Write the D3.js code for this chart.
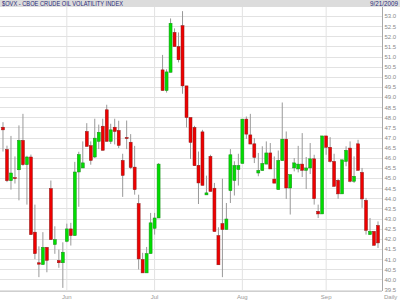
<!DOCTYPE html>
<html>
<head>
<meta charset="utf-8">
<script src="https://cdn.jsdelivr.net/npm/d3@7"></script>
<style>
    body { margin: 0; background: #fff; }
    svg { display: block; font-family: "Liberation Sans", Arial, sans-serif; }
</style>
</head>
<body>
<div id="chart"></div>
<script>
// $OVX daily candles, 7 May - 21 Sep 2009
const opens = [47.51, 46.41, 44.87, 45.02, 45.41, 46.86, 45.66, 46.04, 42.33, 40.82,
    40.73, 41.58, 44.48, 41.72, 40.93, 40.82, 41.88, 42.49, 42.16, 45.30,
    45.50, 47.30, 46.60, 46.04, 46.81, 47.56, 48.37, 46.81, 47.51, 47.35,
    45.87, 47.00, 46.77, 45.54, 43.74, 40.98, 40.32, 41.27, 42.52, 43.03,
    50.34, 49.32, 50.22, 52.19, 51.49, 52.52, 49.55, 47.99, 47.50, 45.63,
    47.28, 44.17, 46.07, 44.50, 42.16, 42.75, 42.46, 44.38, 44.88, 45.42,
    45.72, 47.91, 47.13, 46.69, 45.25, 45.37, 45.69, 46.24, 44.95, 44.43,
    45.86, 46.92, 44.51, 45.50, 45.45, 45.69, 45.38, 45.50, 45.95, 43.36,
    43.23, 47.08, 46.52, 45.82, 44.89, 44.22, 45.82, 46.48, 44.84, 46.69,
    45.28, 43.90, 42.21, 42.37, 42.66];
const highs = [47.76, 46.60, 47.08, 46.07, 47.60, 48.17, 46.10, 46.16, 43.69, 41.63,
    42.33, 41.60, 44.88, 42.62, 41.47, 41.83, 42.75, 42.79, 45.80, 46.30,
    46.81, 47.71, 46.81, 47.93, 47.64, 47.93, 48.62, 47.68, 47.93, 47.83,
    46.20, 47.84, 47.17, 46.59, 44.18, 41.31, 41.60, 43.28, 43.28, 45.74,
    51.08, 50.37, 52.88, 52.39, 52.19, 53.24, 49.55, 47.99, 47.58, 46.31,
    47.38, 45.12, 46.15, 44.76, 42.57, 44.97, 43.77, 46.43, 45.83, 46.20,
    47.91, 48.04, 48.17, 46.97, 46.24, 46.57, 46.81, 46.73, 46.07, 46.36,
    48.73, 47.30, 45.17, 45.99, 46.59, 47.22, 46.04, 46.73, 46.15, 43.69,
    47.08, 47.08, 47.02, 46.20, 44.95, 45.90, 46.57, 46.81, 46.07, 46.89,
    45.50, 44.02, 43.03, 42.37, 42.86];
const lows = [46.31, 44.80, 44.43, 44.73, 43.90, 45.61, 43.69, 42.20, 41.00, 40.11,
    40.73, 40.35, 41.96, 41.26, 40.57, 39.58, 41.83, 41.67, 42.16, 43.58,
    45.50, 46.56, 45.66, 45.99, 46.43, 46.37, 46.81, 46.68, 46.66, 46.48,
    44.07, 46.43, 45.44, 44.18, 40.49, 40.32, 40.32, 41.27, 42.21, 43.03,
    49.32, 49.22, 50.22, 51.49, 50.71, 49.16, 47.50, 45.94, 45.61, 43.72,
    44.64, 44.17, 44.34, 42.36, 40.72, 40.11, 42.46, 43.77, 44.14, 44.63,
    45.72, 46.93, 46.68, 45.74, 45.09, 45.37, 45.69, 45.45, 44.75, 44.43,
    45.86, 43.97, 43.20, 45.33, 45.28, 45.05, 44.46, 45.20, 43.69, 43.03,
    43.23, 46.15, 45.77, 44.59, 43.98, 44.22, 45.58, 44.79, 44.76, 45.38,
    43.53, 42.21, 42.21, 41.68, 41.55];
const closes = [47.38, 44.87, 45.25, 44.98, 46.86, 45.66, 46.04, 42.21, 41.27, 40.75,
    41.58, 40.94, 41.96, 41.96, 40.82, 41.34, 42.49, 42.16, 45.30, 46.16,
    45.75, 46.56, 45.87, 46.97, 47.26, 46.37, 46.81, 47.38, 47.30, 46.61,
    45.13, 46.95, 45.52, 44.43, 41.01, 40.32, 41.27, 42.79, 43.03, 45.69,
    49.32, 50.24, 52.64, 51.49, 50.84, 49.55, 47.99, 46.76, 45.61, 44.76,
    44.64, 44.27, 44.34, 42.36, 40.72, 42.46, 42.98, 46.15, 45.62, 45.62,
    47.91, 47.17, 46.68, 46.02, 45.38, 45.72, 46.24, 45.45, 44.75, 45.87,
    46.92, 44.51, 45.17, 45.75, 45.69, 45.38, 45.50, 45.95, 43.98, 43.23,
    47.08, 46.52, 45.82, 44.59, 44.22, 45.90, 46.37, 44.84, 45.09, 45.38,
    43.97, 42.42, 42.37, 41.68, 41.80];

// month labels and the trading-day index where each month starts
const monthLabels = ['Jun', 'Jul', 'Aug', 'Sep'];
const monthStart = [16, 38, 60, 81];

const yTicks = d3.range(39.5, 53.01, 0.5);

const W = 400, H = 300;
const plotRight = 382, plotBottom = 291, plotTop = 7;

const svg = d3.select('#chart').append('svg')
    .attr('width', W)
    .attr('height', H);

const x = d3.scaleBand()
    .domain(d3.range(opens.length))
    .range([0.5, 0.5 + 4 * opens.length])
    .padding(0.25);

const y = d3.scaleLinear()
    .domain([39.5, 53.0])
    .range([289.5, 16]);

const cx = i => x(i) + x.bandwidth() / 2;

// horizontal grid
svg.append('g')
    .selectAll('line')
    .data(yTicks)
    .enter()
    .append('line')
    .attr('x1', 0)
    .attr('x2', plotRight)
    .attr('y1', d => Math.round(y(d)) + 0.5)
    .attr('y2', d => Math.round(y(d)) + 0.5)
    .attr('stroke', '#e2e2e2');

// vertical month grid
svg.append('g')
    .selectAll('line')
    .data(monthStart)
    .enter()
    .append('line')
    .attr('x1', d => cx(d))
    .attr('x2', d => cx(d))
    .attr('y1', plotTop)
    .attr('y2', plotBottom)
    .attr('stroke', '#e2e2e2');

// title bar
svg.append('rect')
    .attr('x', 0).attr('y', 0)
    .attr('width', W).attr('height', plotTop)
    .attr('fill', '#dcdcdc');

svg.append('text')
    .attr('x', 2).attr('y', 6.3)
    .attr('font-size', 7)
    .attr('fill', '#2a2a7a')
    .attr('textLength', 121)
    .attr('lengthAdjust', 'spacingAndGlyphs')
    .text('$OVX - CBOE CRUDE OIL VOLATILITY INDEX');

svg.append('text')
    .attr('x', 398).attr('y', 6.3)
    .attr('font-size', 7)
    .attr('fill', '#2a2a7a')
    .attr('text-anchor', 'end')
    .attr('textLength', 28)
    .attr('lengthAdjust', 'spacingAndGlyphs')
    .text('9/21/2009');

// right axis
const yAxis = svg.append('g')
    .attr('transform', `translate(${plotRight + 0.5},0)`)
    .call(d3.axisRight(y).tickValues(yTicks).tickFormat(d3.format('.1f')).tickSize(0).tickPadding(2));
yAxis.select('.domain').remove();
yAxis.selectAll('text')
    .attr('font-size', 6)
    .attr('fill', '#8a8a8a')
    .attr('font-family', '"Liberation Sans", Arial, sans-serif');

svg.append('line')
    .attr('x1', plotRight + 0.5).attr('x2', plotRight + 0.5)
    .attr('y1', plotTop).attr('y2', plotBottom)
    .attr('stroke', '#a8a8a8');

svg.append('line')
    .attr('x1', 0).attr('x2', plotRight)
    .attr('y1', plotBottom + 0.5).attr('y2', plotBottom + 0.5)
    .attr('stroke', '#cfcfcf');

// month labels
svg.append('g')
    .selectAll('text')
    .data(monthStart)
    .enter()
    .append('text')
    .attr('x', d => cx(d))
    .attr('y', 298.5)
    .attr('text-anchor', 'middle')
    .attr('font-size', 6)
    .attr('fill', '#999')
    .text((d, i) => monthLabels[i]);

svg.append('text')
    .attr('x', 384).attr('y', 298.5)
    .attr('font-size', 6)
    .attr('fill', '#999')
    .text('Daily');

// candles
const candles = svg.append('g')
    .selectAll('g')
    .data(d3.range(opens.length))
    .enter()
    .append('g');

candles.append('line')
    .attr('x1', i => cx(i))
    .attr('x2', i => cx(i))
    .attr('y1', i => y(highs[i]))
    .attr('y2', i => y(lows[i]))
    .attr('stroke', '#999');

candles.append('rect')
    .attr('x', i => x(i))
    .attr('width', x.bandwidth())
    .attr('y', i => y(Math.max(opens[i], closes[i])))
    .attr('height', i => Math.max(1, Math.abs(y(opens[i]) - y(closes[i]))))
    .attr('fill', i => closes[i] >= opens[i] ? '#00dd00' : '#ee0000')
    .attr('stroke', i => closes[i] >= opens[i] ? '#1a8a1a' : '#8a1a1a')
    .attr('stroke-width', 0.5);
</script>
</body>
</html>
